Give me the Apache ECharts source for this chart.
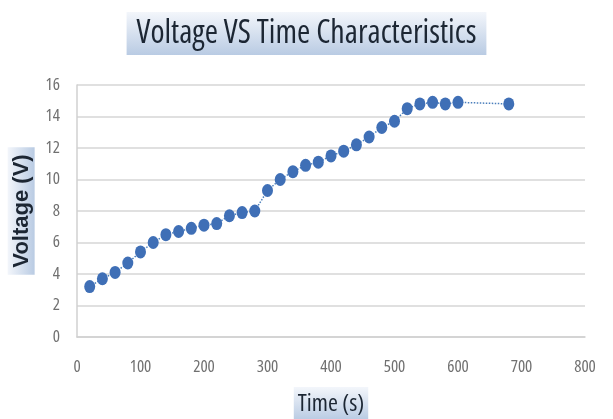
<!DOCTYPE html>
<html>
<head>
<meta charset="utf-8">
<script src="https://cdn.jsdelivr.net/npm/echarts@6/dist/echarts.min.js"></script>
<style>
html,body{margin:0;padding:0;background:#fff;}
#chart{width:613px;height:419px;}
</style>
</head>
<body>
<div id="chart"></div>
<script>
const chartTitle = 'Voltage VS Time Characteristics';
const xAxisTitle = 'Time (s)';
const yAxisTitle = 'Voltage (V)';
const timeValues = [20, 40, 60, 80, 100, 120, 140, 160, 180, 200, 220, 240, 260, 280, 300, 320, 340, 360, 380, 400, 420, 440, 460, 480, 500, 520, 540, 560, 580, 600, 680];
const voltageValues = [3.2, 3.7, 4.1, 4.7, 5.4, 6.0, 6.5, 6.7, 6.9, 7.1, 7.2, 7.7, 7.9, 8.0, 9.3, 10.0, 10.5, 10.9, 11.1, 11.5, 11.8, 12.2, 12.7, 13.3, 13.7, 14.5, 14.8, 14.9, 14.8, 14.9, 14.8];

const points = timeValues.map((t, i) => [t, voltageValues[i]]);

function boxGradient(x2, y2) {
  return new echarts.graphic.LinearGradient(0, 0, x2, y2, [
    {offset: 0, color: '#f3f6fb'},
    {offset: 1, color: '#b9cbe3'}
  ]);
}

const chart = echarts.init(document.getElementById('chart'), null, {renderer: 'canvas'});
chart.setOption({
  backgroundColor: '#ffffff',
  animation: false,
  title: {
    text: chartTitle,
    left: 'center',
    top: 12,
    padding: [4, 10, 4, 10],
    backgroundColor: boxGradient(0, 1),
    textStyle: {
      fontFamily: "'Open Sans'",
      fontStyle: 'condensed',
      fontSize: 32,
      fontWeight: 'normal',
      color: '#1c2633',
      lineHeight: 35
    }
  },
  grid: {left: 77, right: 28, top: 85, bottom: 82, containLabel: false, outerBoundsMode: 'none'},
  xAxis: {
    type: 'value',
    min: 0, max: 800, interval: 100,
    name: xAxisTitle,
    nameLocation: 'middle',
    nameGap: 50,
    nameTextStyle: {
      fontFamily: "'Open Sans'",
      fontStyle: 'condensed',
      fontSize: 24,
      color: '#1c2633',
      lineHeight: 26,
      padding: [4, 4, 3, 4],
      backgroundColor: boxGradient(0, 1)
    },
    axisLine: {show: true, lineStyle: {color: '#d0d0d0', width: 1.5}},
    axisTick: {show: false},
    splitLine: {show: false},
    axisLabel: {
      margin: 22,
      fontFamily: "'Open Sans'",
      fontStyle: 'condensed',
      fontSize: 17,
      color: '#707070'
    }
  },
  yAxis: {
    type: 'value',
    min: 0, max: 16, interval: 2,
    name: yAxisTitle,
    nameLocation: 'middle',
    nameRotate: 90,
    nameGap: 29,
    nameTextStyle: {
      fontFamily: 'Liberation Sans',
      fontWeight: 'bold',
      fontSize: 22,
      color: '#1c2633',
      lineHeight: 26,
      padding: [1, 7, 0, 7],
      backgroundColor: boxGradient(0, 1)
    },
    axisLine: {show: true, lineStyle: {color: '#d0d0d0', width: 1.5}},
    axisTick: {show: false},
    splitLine: {show: true, lineStyle: {color: '#d6d6d6', width: 1.5}},
    axisLabel: {
      margin: 17,
      fontFamily: "'Open Sans'",
      fontStyle: 'condensed',
      fontSize: 17,
      color: '#707070'
    }
  },
  series: [{
    type: 'line',
    data: points,
    symbol: 'circle',
    symbolSize: [11, 13],
    itemStyle: {color: '#3f6fb6'},
    lineStyle: {color: '#4a7ebb', width: 1.5, type: 'dotted'}
  }]
});
</script>
</body>
</html>
